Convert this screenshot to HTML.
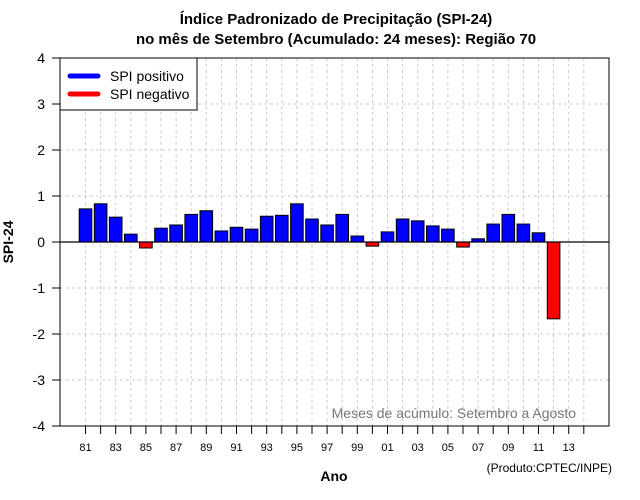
<!DOCTYPE html>
<html><head><meta charset="utf-8"><style>
body{margin:0;background:#fff;}
svg{display:block;font-family:"Liberation Sans",sans-serif;}
</style></head><body>
<svg id="chart" width="640" height="500" viewBox="0 0 640 500">
<rect width="640" height="500" fill="#fff"/>
<text x="336" y="24" text-anchor="middle" font-size="15" font-weight="bold">Índice Padronizado de Precipitação (SPI-24)</text>
<text x="336" y="44" text-anchor="middle" font-size="15" font-weight="bold">no mês de Setembro (Acumulado: 24 meses): Região 70</text>
<g id="grid"></g>
<g id="bars"></g>
<g id="axes"></g>
<text transform="translate(13,242) rotate(-90)" text-anchor="middle" font-size="14" font-weight="bold">SPI-24</text>
<text x="334" y="481" text-anchor="middle" font-size="14" font-weight="bold">Ano</text>
<text x="612" y="472" text-anchor="end" font-size="12">(Produto:CPTEC/INPE)</text>
<text x="576" y="418" text-anchor="end" font-size="14" fill="#777">Meses de acúmulo: Setembro a Agosto</text>
<g>
<rect x="60" y="58" width="137" height="52" fill="#fff" stroke="#000" stroke-width="1"/>
<line x1="70" y1="76" x2="98" y2="76" stroke="#0000ff" stroke-width="5" stroke-linecap="round"/>
<text x="110" y="81" font-size="14">SPI positivo</text>
<line x1="70" y1="94" x2="98" y2="94" stroke="#ff0000" stroke-width="5" stroke-linecap="round"/>
<text x="110" y="99" font-size="14">SPI negativo</text>
</g>
</svg>
<script>
const years = [1981,1982,1983,1984,1985,1986,1987,1988,1989,1990,1991,1992,1993,1994,1995,1996,1997,1998,1999,2000,2001,2002,2003,2004,2005,2006,2007,2008,2009,2010,2011,2012];
const spiValues = [0.72,0.83,0.54,0.17,-0.13,0.30,0.37,0.60,0.68,0.24,0.32,0.28,0.56,0.58,0.83,0.50,0.37,0.60,0.13,-0.09,0.22,0.50,0.46,0.35,0.28,-0.11,0.07,0.39,0.60,0.39,0.20,-1.67];
const yTicks = [-4,-3,-2,-1,0,1,2,3,4];
const tickYears = [1981,1982,1983,1984,1985,1986,1987,1988,1989,1990,1991,1992,1993,1994,1995,1996,1997,1998,1999,2000,2001,2002,2003,2004,2005,2006,2007,2008,2009,2010,2011,2012,2013,2014];

const NS="http://www.w3.org/2000/svg";
const L=60,R=609,T=58,B=426;
const x=yr=>85.5+(yr-1981)*15.1;
const y=v=>242-v*46;
function mk(tag,attrs,parent){const e=document.createElementNS(NS,tag);for(const k in attrs)e.setAttribute(k,attrs[k]);parent.appendChild(e);return e;}
const grid=document.getElementById('grid'),bars=document.getElementById('bars'),axes=document.getElementById('axes');
tickYears.forEach(yr=>{
  const g=mk('line',{x1:x(yr),x2:x(yr),y1:T,y2:B,stroke:'#ccc','stroke-dasharray':'3,3'},grid);
  
  
  const t=mk('line',{x1:x(yr),x2:x(yr),y1:B,y2:B+8,stroke:'#000'},axes);
  
  
  if((yr-1981)%2===0){
    const lb=mk('text',{x:x(yr),y:451,'text-anchor':'middle','font-size':11},axes);
    lb.textContent=String(yr).slice(2);
    
    
  }
});
yTicks.forEach(v=>{
  if(v!==0&&v!==4&&v!==-4){
    const g=mk('line',{x1:L,x2:R,y1:y(v),y2:y(v),stroke:'#ccc','stroke-dasharray':'3,3'},grid);
    
    
  }
  const t=mk('line',{x1:52,x2:L,y1:y(v),y2:y(v),stroke:'#000'},axes);
  
  
  const lb=mk('text',{x:45,y:y(v)+5,'text-anchor':'end','font-size':14},axes);
  lb.textContent=v;
  
  
});
years.forEach((yr,i)=>{
  const v=spiValues[i];
  const top=Math.min(y(v),y(0)),h=Math.abs(y(v)-y(0));
  const r=mk('rect',{x:x(yr)-6.3,y:top,width:12.6,height:h,fill:v>=0?'#0000ff':'#ff0000',stroke:'#000','stroke-width':1},bars);
  
  
});
const z=mk('line',{x1:L,x2:R,y1:y(0),y2:y(0),stroke:'#000','stroke-width':1.2},axes);


const f=mk('rect',{x:L,y:T,width:R-L,height:B-T,fill:'none',stroke:'#000','stroke-width':1},axes);


</script>
</body></html>
